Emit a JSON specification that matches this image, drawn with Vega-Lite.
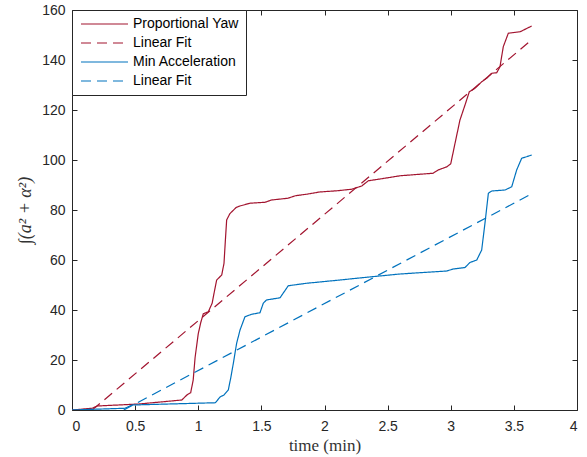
{
  "$schema": "https://vega.github.io/schema/vega-lite/v6.json",
  "width": 505,
  "height": 400,
  "autosize": {"type": "none"},
  "padding": {"left": 72, "top": 10, "right": 10, "bottom": 47},
  "background": "white",
  "config": {
    "view": {"stroke": null},
    "font": "Liberation Sans",
    "axis": {
      "grid": false,
      "domainColor": "#262626",
      "tickColor": "#262626",
      "labelColor": "#262626",
      "labelFont": "Liberation Sans",
      "labelFontSize": 14,
      "tickSize": -5,
      "domainWidth": 1,
      "tickWidth": 1,
      "titleFont": "Liberation Serif",
      "titleFontWeight": 400,
      "titleColor": "#333333",
      "titleFontSize": 17
    }
  },
  "data": {
    "values": [
      {"s": "Proportional Yaw", "t": 0, "v": 0},
      {"s": "Proportional Yaw", "t": 0.16, "v": 0.7},
      {"s": "Proportional Yaw", "t": 0.2, "v": 1.6},
      {"s": "Proportional Yaw", "t": 0.53, "v": 2.4},
      {"s": "Proportional Yaw", "t": 0.87, "v": 4.0},
      {"s": "Proportional Yaw", "t": 0.91, "v": 6.0},
      {"s": "Proportional Yaw", "t": 0.94, "v": 6.9},
      {"s": "Proportional Yaw", "t": 0.96, "v": 12},
      {"s": "Proportional Yaw", "t": 0.975, "v": 21},
      {"s": "Proportional Yaw", "t": 1.0, "v": 30.5},
      {"s": "Proportional Yaw", "t": 1.02, "v": 35},
      {"s": "Proportional Yaw", "t": 1.04, "v": 38.5},
      {"s": "Proportional Yaw", "t": 1.08, "v": 39.3},
      {"s": "Proportional Yaw", "t": 1.11, "v": 42.7},
      {"s": "Proportional Yaw", "t": 1.13, "v": 48},
      {"s": "Proportional Yaw", "t": 1.146, "v": 52},
      {"s": "Proportional Yaw", "t": 1.186, "v": 54},
      {"s": "Proportional Yaw", "t": 1.204, "v": 58.7},
      {"s": "Proportional Yaw", "t": 1.215, "v": 68},
      {"s": "Proportional Yaw", "t": 1.225, "v": 76},
      {"s": "Proportional Yaw", "t": 1.25, "v": 78.5},
      {"s": "Proportional Yaw", "t": 1.3, "v": 81},
      {"s": "Proportional Yaw", "t": 1.33, "v": 81.6},
      {"s": "Proportional Yaw", "t": 1.41, "v": 82.7},
      {"s": "Proportional Yaw", "t": 1.53, "v": 83.1},
      {"s": "Proportional Yaw", "t": 1.58, "v": 84},
      {"s": "Proportional Yaw", "t": 1.71, "v": 84.7},
      {"s": "Proportional Yaw", "t": 1.77, "v": 85.7},
      {"s": "Proportional Yaw", "t": 1.87, "v": 86.4},
      {"s": "Proportional Yaw", "t": 1.96, "v": 87.2},
      {"s": "Proportional Yaw", "t": 2.1, "v": 87.7},
      {"s": "Proportional Yaw", "t": 2.215, "v": 88.3},
      {"s": "Proportional Yaw", "t": 2.295, "v": 89.6},
      {"s": "Proportional Yaw", "t": 2.347, "v": 91.7},
      {"s": "Proportional Yaw", "t": 2.44, "v": 92.4},
      {"s": "Proportional Yaw", "t": 2.6, "v": 93.7},
      {"s": "Proportional Yaw", "t": 2.86, "v": 94.7},
      {"s": "Proportional Yaw", "t": 2.9, "v": 96},
      {"s": "Proportional Yaw", "t": 2.97, "v": 97.3},
      {"s": "Proportional Yaw", "t": 3.0, "v": 98.5},
      {"s": "Proportional Yaw", "t": 3.034, "v": 106.7},
      {"s": "Proportional Yaw", "t": 3.073, "v": 116},
      {"s": "Proportional Yaw", "t": 3.113, "v": 122},
      {"s": "Proportional Yaw", "t": 3.147, "v": 127.3},
      {"s": "Proportional Yaw", "t": 3.192, "v": 128.7},
      {"s": "Proportional Yaw", "t": 3.245, "v": 131.3},
      {"s": "Proportional Yaw", "t": 3.285, "v": 132.7},
      {"s": "Proportional Yaw", "t": 3.325, "v": 134.7},
      {"s": "Proportional Yaw", "t": 3.364, "v": 134.9},
      {"s": "Proportional Yaw", "t": 3.39, "v": 137.3},
      {"s": "Proportional Yaw", "t": 3.416, "v": 145.3},
      {"s": "Proportional Yaw", "t": 3.456, "v": 150.7},
      {"s": "Proportional Yaw", "t": 3.55, "v": 151.3},
      {"s": "Proportional Yaw", "t": 3.641, "v": 153.6},
      {"s": "Linear Fit A", "t": 0.16, "v": 0},
      {"s": "Linear Fit A", "t": 3.63, "v": 147.6},
      {"s": "Min Acceleration", "t": 0, "v": 0},
      {"s": "Min Acceleration", "t": 0.42, "v": 0.7},
      {"s": "Min Acceleration", "t": 0.475, "v": 2.0},
      {"s": "Min Acceleration", "t": 1.135, "v": 2.9},
      {"s": "Min Acceleration", "t": 1.175, "v": 5.3},
      {"s": "Min Acceleration", "t": 1.204, "v": 6},
      {"s": "Min Acceleration", "t": 1.238, "v": 8},
      {"s": "Min Acceleration", "t": 1.258, "v": 13},
      {"s": "Min Acceleration", "t": 1.278, "v": 18.7},
      {"s": "Min Acceleration", "t": 1.304, "v": 26.7},
      {"s": "Min Acceleration", "t": 1.331, "v": 32},
      {"s": "Min Acceleration", "t": 1.37, "v": 37.3},
      {"s": "Min Acceleration", "t": 1.423, "v": 38.3},
      {"s": "Min Acceleration", "t": 1.489, "v": 38.9},
      {"s": "Min Acceleration", "t": 1.515, "v": 42.7},
      {"s": "Min Acceleration", "t": 1.54, "v": 44},
      {"s": "Min Acceleration", "t": 1.648, "v": 44.9},
      {"s": "Min Acceleration", "t": 1.713, "v": 49.7},
      {"s": "Min Acceleration", "t": 1.859, "v": 50.7},
      {"s": "Min Acceleration", "t": 2.123, "v": 52},
      {"s": "Min Acceleration", "t": 2.334, "v": 53.1},
      {"s": "Min Acceleration", "t": 2.598, "v": 54.4},
      {"s": "Min Acceleration", "t": 2.968, "v": 55.6},
      {"s": "Min Acceleration", "t": 3.02, "v": 56.4},
      {"s": "Min Acceleration", "t": 3.113, "v": 57},
      {"s": "Min Acceleration", "t": 3.152, "v": 59},
      {"s": "Min Acceleration", "t": 3.206, "v": 60},
      {"s": "Min Acceleration", "t": 3.245, "v": 64},
      {"s": "Min Acceleration", "t": 3.271, "v": 74.7},
      {"s": "Min Acceleration", "t": 3.298, "v": 86.7},
      {"s": "Min Acceleration", "t": 3.325, "v": 87.6},
      {"s": "Min Acceleration", "t": 3.43, "v": 88},
      {"s": "Min Acceleration", "t": 3.483, "v": 89.3},
      {"s": "Min Acceleration", "t": 3.522, "v": 96},
      {"s": "Min Acceleration", "t": 3.562, "v": 100.7},
      {"s": "Min Acceleration", "t": 3.6, "v": 101.3},
      {"s": "Min Acceleration", "t": 3.641, "v": 102},
      {"s": "Linear Fit B", "t": 0.41, "v": 0},
      {"s": "Linear Fit B", "t": 3.615, "v": 85.8}
    ]
  },
  "layer": [
    {
      "mark": {"type": "line", "strokeWidth": 1.2, "clip": true},
      "encoding": {
        "x": {
          "field": "t", "type": "quantitative",
          "scale": {"domain": [0, 4], "nice": false},
          "axis": {"values": [0, 0.5, 1, 1.5, 2, 2.5, 3, 3.5, 4], "format": "~g", "title": "time (min)", "labelPadding": 14, "titlePadding": 4}
        },
        "y": {
          "field": "v", "type": "quantitative",
          "scale": {"domain": [0, 160], "nice": false},
          "axis": {"values": [0, 20, 40, 60, 80, 100, 120, 140, 160], "title": "∫(a² + α²)", "titleFontStyle": "italic", "titleFontSize": 18, "labelPadding": 12, "titlePadding": 7}
        },
        "color": {
          "field": "s", "type": "nominal",
          "scale": {"domain": ["Proportional Yaw", "Linear Fit A", "Min Acceleration", "Linear Fit B"], "range": ["#A2142F", "#A2142F", "#0072BD", "#0072BD"]},
          "legend": {
            "title": null,
            "orient": "none",
            "legendX": 0,
            "legendY": 0,
            "direction": "vertical",
            "symbolType": "M-1,0H8.4",
            "symbolSize": 100,
            "symbolStrokeWidth": 1.2,
            "labelFontSize": 14,
            "labelFont": "Liberation Sans",
            "labelColor": "#000000",
            "labelOffset": 40,
            "rowPadding": 5,
            "padding": 7,
            "strokeColor": "#262626",
            "fillColor": "white",
            "labelExpr": "datum.label == 'Linear Fit A' || datum.label == 'Linear Fit B' ? 'Linear Fit' : datum.label"
          }
        },
        "strokeDash": {
          "field": "s", "type": "nominal",
          "scale": {"domain": ["Proportional Yaw", "Linear Fit A", "Min Acceleration", "Linear Fit B"], "range": [[1, 0], [10, 6], [1, 0], [10, 6]]},
          "legend": {
            "title": null,
            "orient": "none",
            "legendX": 0,
            "legendY": 0,
            "direction": "vertical",
            "symbolType": "M-1,0H8.4",
            "symbolSize": 100,
            "symbolStrokeWidth": 1.2,
            "labelFontSize": 14,
            "labelFont": "Liberation Sans",
            "labelColor": "#000000",
            "labelOffset": 40,
            "rowPadding": 5,
            "padding": 7,
            "strokeColor": "#262626",
            "fillColor": "white",
            "labelExpr": "datum.label == 'Linear Fit A' || datum.label == 'Linear Fit B' ? 'Linear Fit' : datum.label"
          }
        }
      }
    },
    {
      "mark": {"type": "line", "opacity": 0},
      "encoding": {
        "x": {
          "field": "t", "type": "quantitative",
          "scale": {"domain": [0, 4], "nice": false},
          "axis": {"orient": "top", "values": [0, 0.5, 1, 1.5, 2, 2.5, 3, 3.5, 4], "labels": false, "title": null}
        },
        "y": {
          "field": "v", "type": "quantitative",
          "scale": {"domain": [0, 160], "nice": false},
          "axis": {"orient": "right", "values": [0, 20, 40, 60, 80, 100, 120, 140, 160], "labels": false, "title": null}
        }
      }
    }
  ],
  "resolve": {"axis": {"x": "independent", "y": "independent"}}
}
